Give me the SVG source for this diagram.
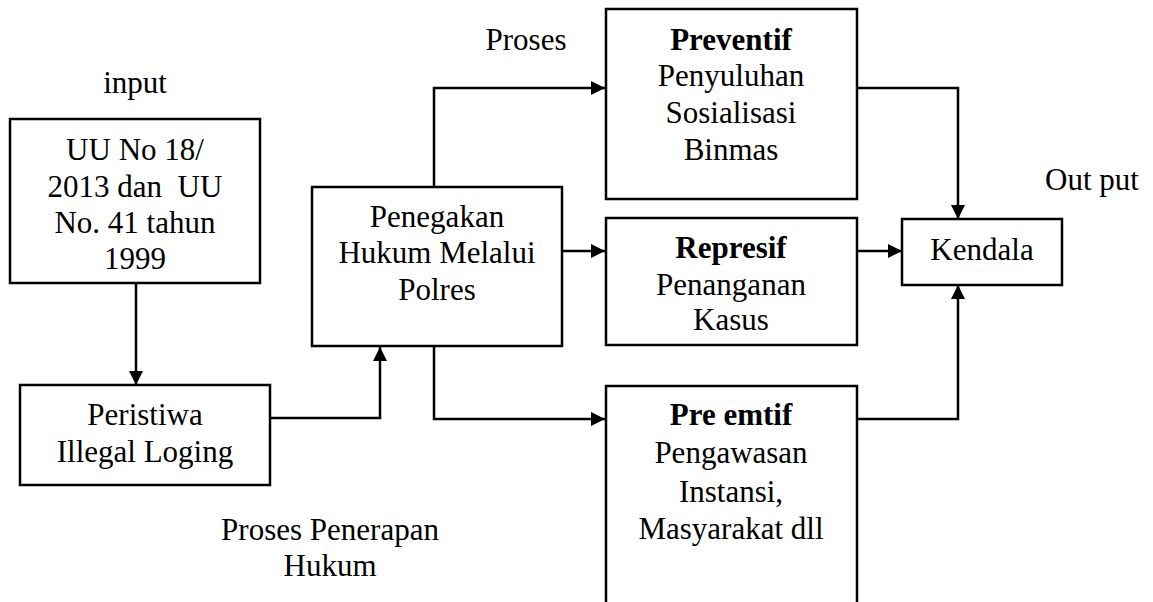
<svg xmlns="http://www.w3.org/2000/svg" width="1153" height="602" viewBox="0 0 1153 602">
<style>
.box{fill:#fff;stroke:#000;stroke-width:2.5}
.ln{fill:none;stroke:#000;stroke-width:2.5;stroke-linejoin:miter}
text{font-family:"Liberation Serif","Times New Roman",serif;font-size:31px;fill:#000;text-anchor:middle}
.b{font-weight:bold}
.l{text-anchor:start}
</style>
<defs>
<marker id="ah" markerWidth="14" markerHeight="14" viewBox="0 0 14 14" refX="14" refY="7" orient="auto" markerUnits="userSpaceOnUse">
<path d="M0,0 L14,7 L0,14 Z" fill="#000"/>
</marker>
</defs>
<rect width="1153" height="602" fill="#fff"/>
<g id="labels">
<text x="135" y="93">input</text>
<text x="526" y="50">Proses</text>
<text x="1045" y="190" class="l">Out put</text>
<text x="330" y="540">Proses Penerapan</text>
<text x="330" y="576">Hukum</text>
</g>
<g id="connectors">
<path class="ln" d="M136,283 V385" marker-end="url(#ah)"/>
<path class="ln" d="M270,418 H380 V347" marker-end="url(#ah)"/>
<path class="ln" d="M434,187 V88 H605" marker-end="url(#ah)"/>
<path class="ln" d="M562,251 H605" marker-end="url(#ah)"/>
<path class="ln" d="M434,346 V419 H605" marker-end="url(#ah)"/>
<path class="ln" d="M857,88 H958 V219" marker-end="url(#ah)"/>
<path class="ln" d="M857,251 H902" marker-end="url(#ah)"/>
<path class="ln" d="M857,419 H958 V285" marker-end="url(#ah)"/>
</g>
<g id="uu">
<rect class="box" x="10" y="119" width="250" height="164"/>
<text x="135" y="160">UU No 18/</text>
<text x="135" y="197">2013 dan&#160; UU</text>
<text x="135" y="233">No. 41 tahun</text>
<text x="135" y="269">1999</text>
</g>
<g id="peristiwa">
<rect class="box" x="20" y="385" width="250" height="100"/>
<text x="145" y="425">Peristiwa</text>
<text x="145" y="462">Illegal Loging</text>
</g>
<g id="penegakan">
<rect class="box" x="312" y="187" width="250" height="159"/>
<text x="437" y="227">Penegakan</text>
<text x="437" y="263">Hukum Melalui</text>
<text x="437" y="300">Polres</text>
</g>
<g id="preventif">
<rect class="box" x="606" y="9" width="251" height="190"/>
<text x="731" y="50" class="b">Preventif</text>
<text x="731" y="86">Penyuluhan</text>
<text x="731" y="123">Sosialisasi</text>
<text x="731" y="160">Binmas</text>
</g>
<g id="represif">
<rect class="box" x="606" y="218" width="251" height="127"/>
<text x="731" y="258" class="b">Represif</text>
<text x="731" y="295">Penanganan</text>
<text x="731" y="330">Kasus</text>
</g>
<g id="preemtif">
<rect class="box" x="606" y="386" width="251" height="240"/>
<text x="731" y="425" class="b">Pre emtif</text>
<text x="731" y="463">Pengawasan</text>
<text x="731" y="502">Instansi,</text>
<text x="731" y="539">Masyarakat dll</text>
</g>
<g id="kendala">
<rect class="box" x="902" y="219" width="160" height="66"/>
<text x="982" y="260">Kendala</text>
</g>
</svg>
